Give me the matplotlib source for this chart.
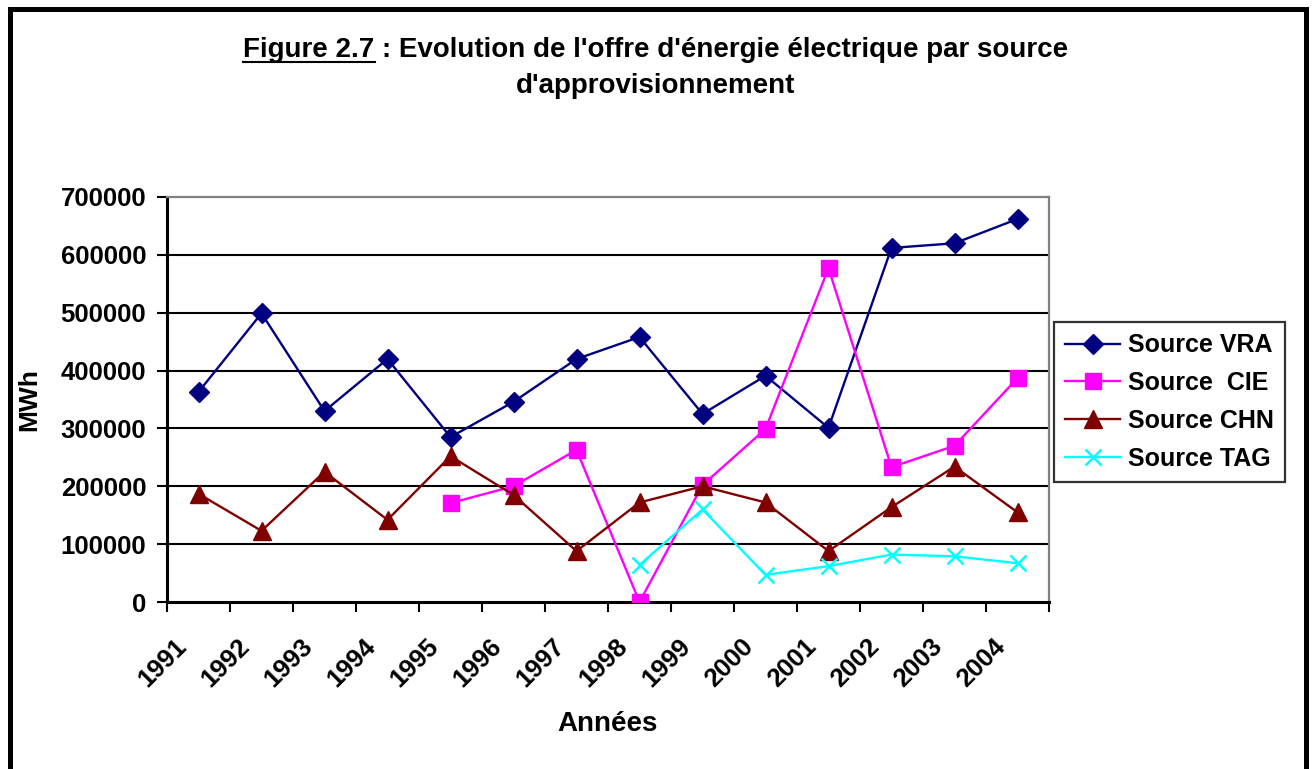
import matplotlib
matplotlib.use("Agg")
import matplotlib.pyplot as plt
from matplotlib.patches import Rectangle
from matplotlib.lines import Line2D
from matplotlib.ticker import FuncFormatter
from matplotlib.transforms import ScaledTranslation
import numpy as np

plt.rcParams['font.family'] = ['Liberation Sans', 'DejaVu Sans']
plt.rcParams['font.weight'] = 'bold'

# years on the category axis
years = ["1991", "1992", "1993", "1994", "1995", "1996", "1997",
         "1998", "1999", "2000", "2001", "2002", "2003", "2004"]

# MWh per source (nan = no value that year)
vra = [363000, 499000, 330000, 420000, 285000, 346000, 420000,
       458000, 325000, 391000, 301000, 612000, 620000, 662000]
cie = [np.nan, np.nan, np.nan, np.nan, 171000, 200000, 263000,
       0, 202000, 299000, 577000, 233000, 270000, 387000]
chn = [187000, 123000, 225000, 142000, 252000, 185000, 88000,
       172000, 200000, 172000, 88000, 164000, 234000, 155000]
tag = [np.nan, np.nan, np.nan, np.nan, np.nan, np.nan, np.nan,
       64000, 160000, 47000, 62000, 82000, 79000, 67000]

W, H = 1312, 769
fig = plt.figure(figsize=(W / 100, H / 100), dpi=100)
ax = fig.add_axes([167 / W, 1 - 602 / H, (1049 - 167) / W, (602 - 197) / H])

x = np.arange(len(years))

ax.plot(x, vra, color="#000080", lw=1.7, marker="D", ms=10, label="Source VRA", zorder=3)
ax.plot(x, cie, color="#FF00FF", lw=1.7, marker="s", ms=11.5, label="Source  CIE", zorder=3)
ax.plot(x, chn, color="#800000", lw=1.7, marker="^", ms=12.5, label="Source CHN", zorder=3)
ax.plot(x, tag, color="#00FFFF", lw=1.7, marker="x", ms=11, mew=1.8, label="Source TAG", zorder=3)

ax.set_xlim(-0.5, len(years) - 0.5)
ax.set_ylim(0, 700000)
ax.set_yticks(np.arange(0, 700001, 100000))
ax.yaxis.set_major_formatter(FuncFormatter(lambda v, p: "%d" % v))

# grid lines (no line at 0 / 700000)
for v in range(100000, 700000, 100000):
    ax.axhline(v, color="black", lw=1.5, zorder=1)

# category axis: ticks between categories, labels at centers
ax.set_xticks(np.arange(-0.5, len(years), 1.0))
ax.set_xticklabels([])
ax.set_xticks(x, minor=True)
ax.set_xticklabels(years, minor=True, rotation=45, ha="right", va="center",
                   rotation_mode="anchor", fontsize=18.5, fontweight="bold")
ax.tick_params(axis="x", which="minor", length=0, pad=29)
ax.tick_params(axis="x", which="major", direction="out", length=7, width=1.5)
ax.tick_params(axis="y", direction="out", length=7, width=1.5, labelsize=18.5, pad=8)

# shift the rotated year labels a bit to the left, like Excel does
shift = ScaledTranslation(-16 / 100, 0, fig.dpi_scale_trans)
for lab in ax.get_xticklabels(minor=True):
    lab.set_transform(lab.get_transform() + shift)

for sp in ["left", "bottom"]:
    ax.spines[sp].set_color("black")
    ax.spines[sp].set_linewidth(2.2)
for sp in ["top", "right"]:
    ax.spines[sp].set_color("#808080")
    ax.spines[sp].set_linewidth(1.6)

ax.set_ylabel("MWh", fontsize=19, fontweight="bold", labelpad=14)
ax.set_xlabel("Années", fontsize=20, fontweight="bold", labelpad=14)

leg = ax.legend(loc="center left", bbox_to_anchor=(1054 / W, 1 - 402 / H),
                bbox_transform=fig.transFigure, fontsize=18, frameon=True,
                fancybox=False, handlelength=2.2, handletextpad=0.3,
                borderpad=0.45, labelspacing=0.55, borderaxespad=0)
leg.get_frame().set_edgecolor("black")
leg.get_frame().set_linewidth(1.6)

# title, first part underlined
line1 = "Figure 2.7 : Evolution de l'offre d'énergie électrique par source"
t1 = fig.text(0.5, 1 - 50 / H, line1, ha="center", va="center", fontsize=20, fontweight="bold")
fig.text(0.5, 1 - 86 / H, "d'approvisionnement", ha="center", va="center",
         fontsize=20, fontweight="bold")
fig.canvas.draw()
r = fig.canvas.get_renderer()
bb = t1.get_window_extent(r)
probe = fig.text(0, 0, "Figure 2.7", fontsize=20, fontweight="bold")
pw = probe.get_window_extent(r).width
probe.remove()
uy = bb.y0 + 1
fig.add_artist(Line2D([bb.x0 / W, (bb.x0 + pw) / W], [uy / H, uy / H],
                      transform=fig.transFigure, color="black", lw=1.5))

# thick outer frame
fig.add_artist(Rectangle((9.5 / W, -0.1), (1305.5 - 9.5) / W, 1.1 - 9.5 / H,
                         transform=fig.transFigure, fill=False, edgecolor="black",
                         linewidth=3.6))

fig.savefig("out.png", dpi=100)
